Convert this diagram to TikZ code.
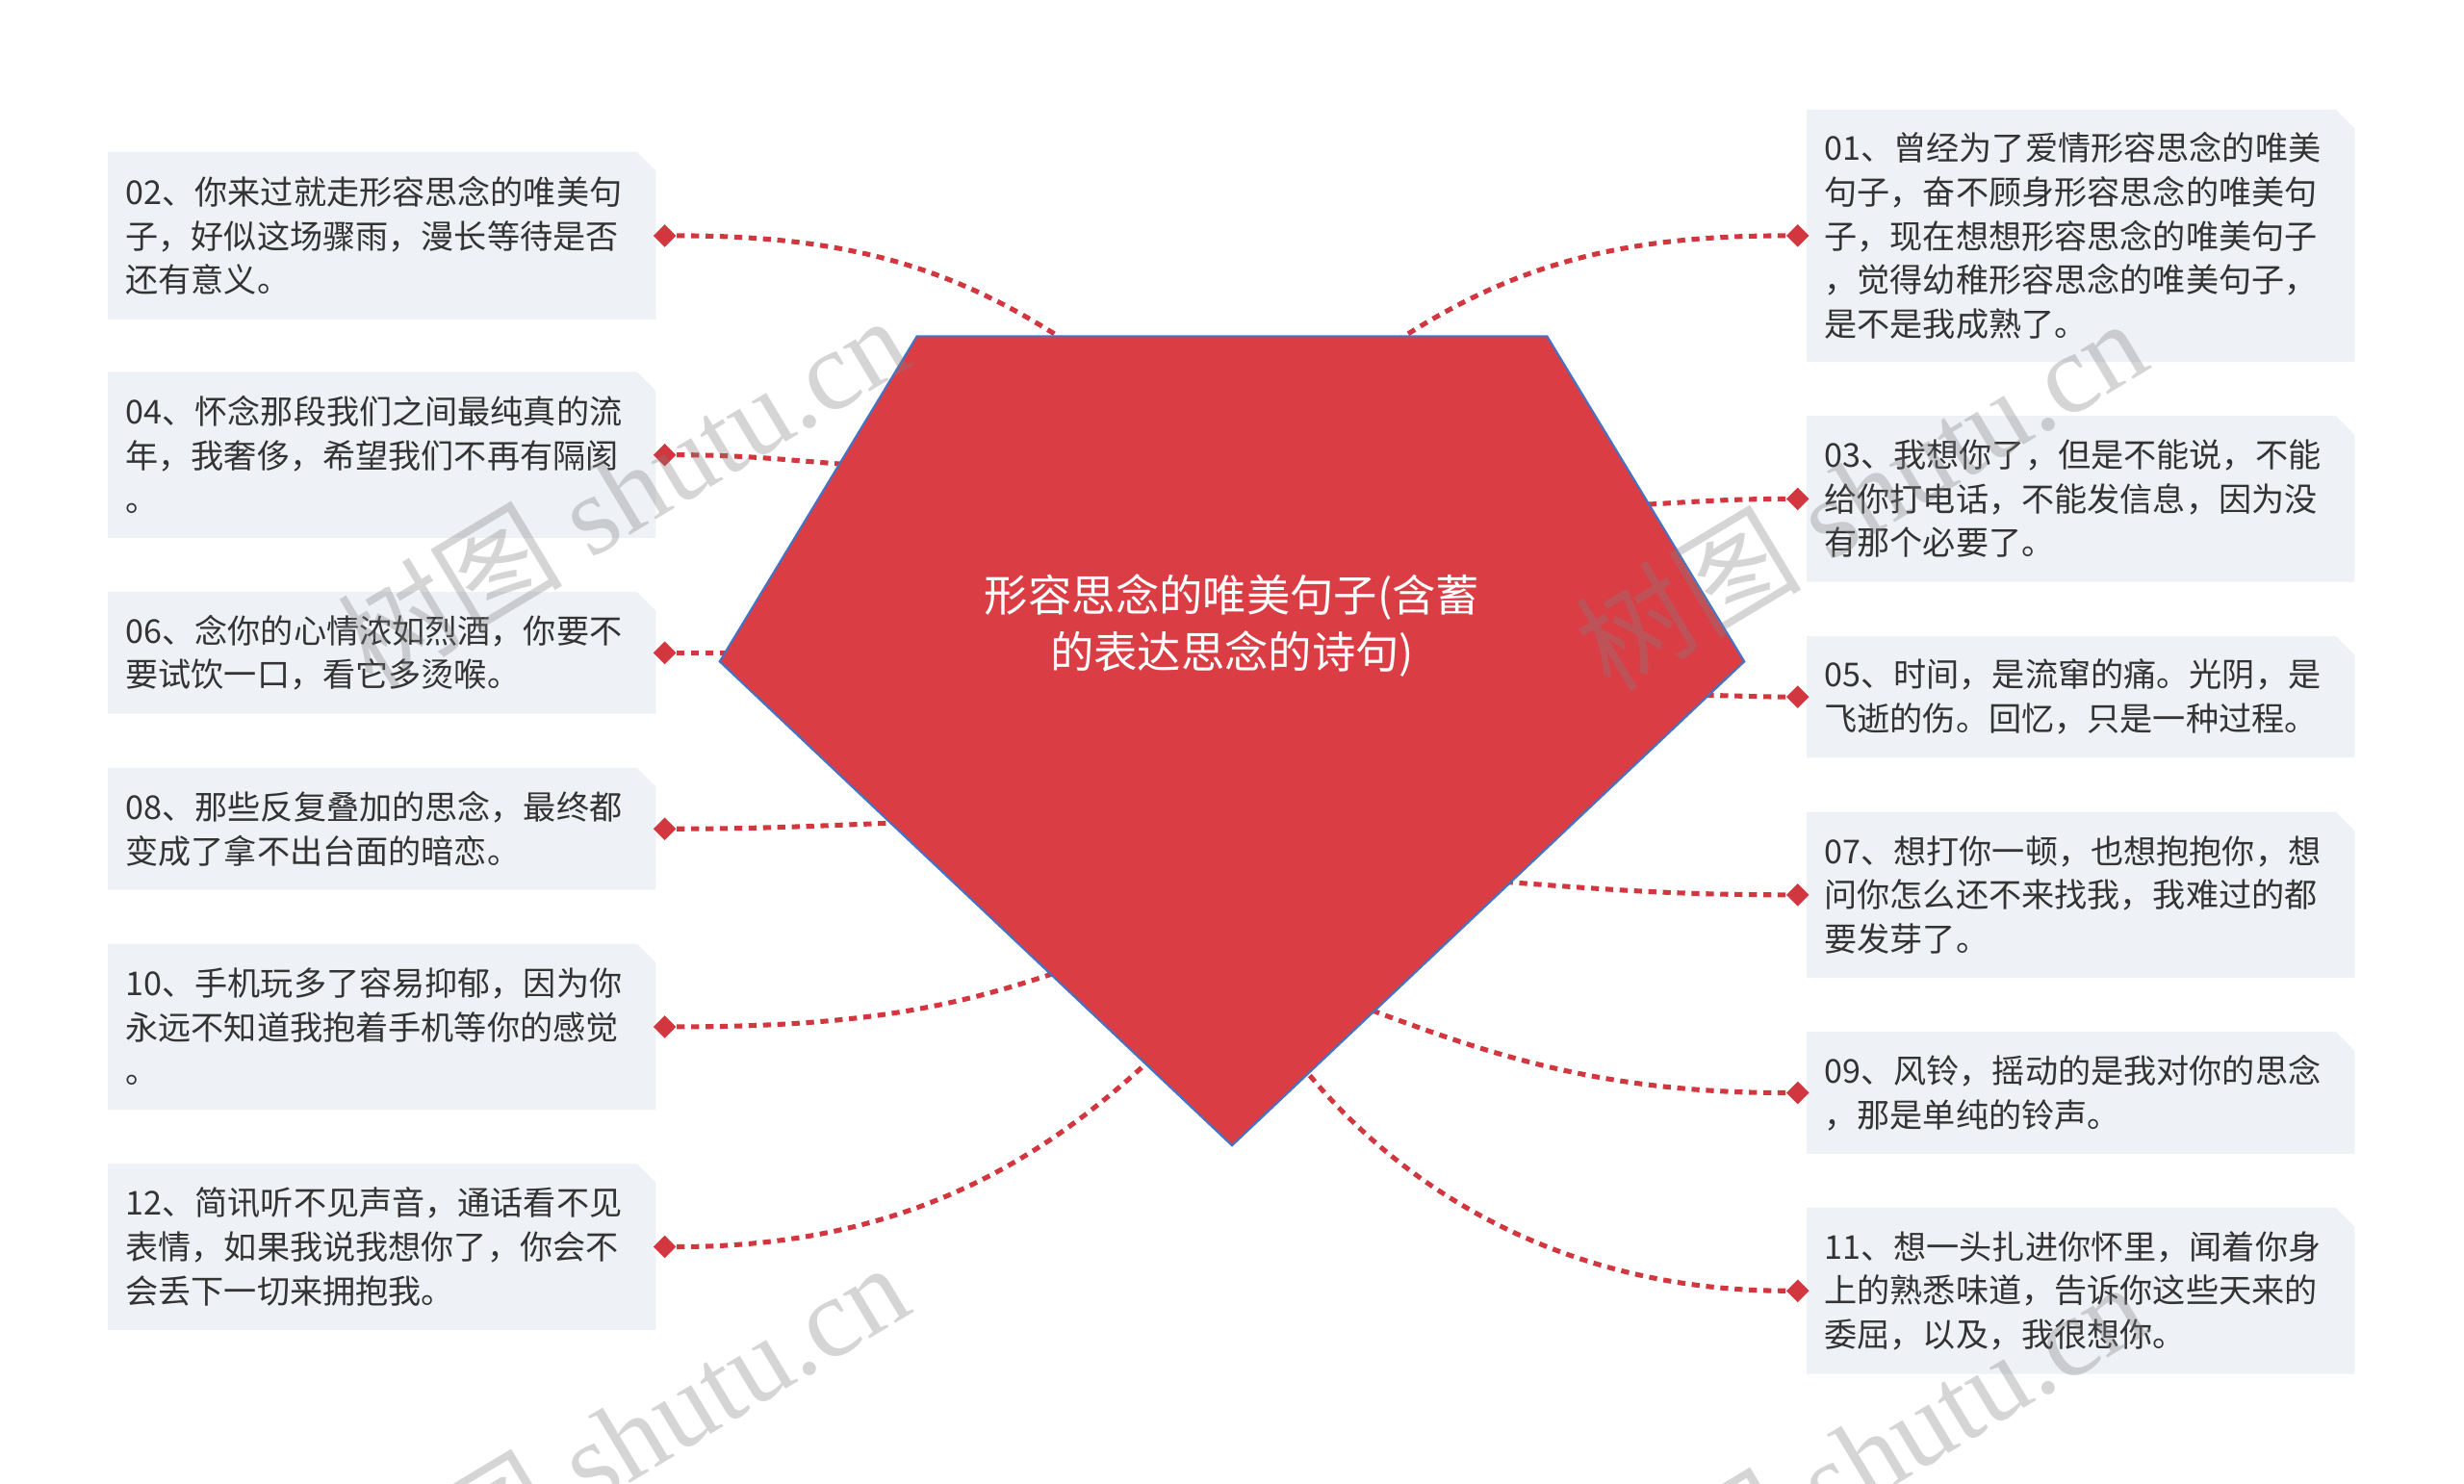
\documentclass[tikz,border=0pt]{standalone}
\usepackage{fontspec}
\setmainfont{Liberation Serif}
\newfontfamily\cjk{Noto Sans CJK SC}
\usetikzlibrary{shapes.geometric}
\pgfdeclarelayer{background}
\pgfdeclarelayer{front}
\pgfsetlayers{background,main,front}
\definecolor{boxfill}{HTML}{EEF1F5}
\definecolor{txtc}{HTML}{333333}
\definecolor{rootred}{HTML}{DB3D45}
\definecolor{rootline}{HTML}{4472C4}
\definecolor{linkred}{HTML}{D2363F}
\tikzset{
  leaf/.style={rectangle, inner xsep=6.73pt, inner ysep=0pt, text width=199.6pt,
    align=left, minimum width=213.05pt, text=txtc,
    font=\cjk\fontsize{12.8pt}{17.1pt}\selectfont},
  dia/.style={diamond, fill=linkred, inner sep=0pt, minimum size=9pt},
  link/.style={draw=linkred, line width=1.9pt, dash pattern=on 3.1pt off 2.5pt},
  roottext/.style={align=center, text=white, inner sep=0pt,
    font=\cjk\fontsize{17pt}{22.3pt}\selectfont},
  wm/.style={text=gray, opacity=0.33, inner sep=0pt, rotate=31,
    font=\fontsize{44pt}{44pt}\selectfont}
}
\begin{document}
\begin{tikzpicture}[x=0.6122pt, y=-0.6122pt]
\useasboundingbox (0,0) rectangle (1568,944);
\begin{pgfonlayer}{background}
\fill[white] (0,0) rectangle (1568,944);
\end{pgfonlayer}

% left leaves
\node[leaf, minimum height=64.9pt] (b02) at (243,150) {02、你来过就走形容思念的唯美句\\子，好似这场骤雨，漫长等待是否\\还有意义。};
\node[leaf, minimum height=64.3pt] (b04) at (243,289.5) {04、怀念那段我们之间最纯真的流\\年，我奢侈，希望我们不再有隔阂\\。};
\node[leaf, minimum height=47.1pt] (b06) at (243,415.5) {06、念你的心情浓如烈酒，你要不\\要试饮一口，看它多烫喉。};
\node[leaf, minimum height=47.1pt] (b08) at (243,527.5) {08、那些反复叠加的思念，最终都\\变成了拿不出台面的暗恋。};
\node[leaf, minimum height=64.3pt] (b10) at (243,653.5) {10、手机玩多了容易抑郁，因为你\\永远不知道我抱着手机等你的感觉\\。};
\node[leaf, minimum height=64.3pt] (b12) at (243,793.5) {12、简讯听不见声音，通话看不见\\表情，如果我说我想你了，你会不\\会丢下一切来拥抱我。};
% right leaves
\node[leaf, minimum height=97.95pt] (b01) at (1324,150) {01、曾经为了爱情形容思念的唯美\\句子，奋不顾身形容思念的唯美句\\子，现在想想形容思念的唯美句子\\，觉得幼稚形容思念的唯美句子，\\是不是我成熟了。};
\node[leaf, minimum height=64.3pt] (b03) at (1324,317.5) {03、我想你了，但是不能说，不能\\给你打电话，不能发信息，因为没\\有那个必要了。};
\node[leaf, minimum height=47.1pt] (b05) at (1324,443.5) {05、时间，是流窜的痛。光阴，是\\飞逝的伤。回忆，只是一种过程。};
\node[leaf, minimum height=64.3pt] (b07) at (1324,569.5) {07、想打你一顿，也想抱抱你，想\\问你怎么还不来找我，我难过的都\\要发芽了。};
\node[leaf, minimum height=47.1pt] (b09) at (1324,695.5) {09、风铃，摇动的是我对你的思念\\，那是单纯的铃声。};
\node[leaf, minimum height=64.3pt] (b11) at (1324,821.5) {11、想一头扎进你怀里，闻着你身\\上的熟悉味道，告诉你这些天来的\\委屈，以及，我很想你。};

\begin{pgfonlayer}{background}
\foreach \n in {b01,b02,b03,b04,b05,b06,b07,b08,b09,b10,b11,b12}{
  \fill[boxfill] (\n.south west) -- (\n.north west) -- ([xshift=-7.35pt]\n.north east)
    -- ([yshift=-7.35pt]\n.north east) -- (\n.south east) -- cycle;
}
\end{pgfonlayer}

% diamonds
\node[dia] (d02) at (423,150) {};
\node[dia] (d04) at (423,289.5) {};
\node[dia] (d06) at (423,415.5) {};
\node[dia] (d08) at (423,527.5) {};
\node[dia] (d10) at (423,653.5) {};
\node[dia] (d12) at (423,793.5) {};
\node[dia] (d01) at (1144,150) {};
\node[dia] (d03) at (1144,317.5) {};
\node[dia] (d05) at (1144,443.5) {};
\node[dia] (d07) at (1144,569.5) {};
\node[dia] (d09) at (1144,695.5) {};
\node[dia] (d11) at (1144,821.5) {};

% hidden ends of connectors (inside the root shape)
\coordinate (e02) at (690,225);
\coordinate (e04) at (560,297);
\coordinate (e06) at (490,415.5);
\coordinate (e08) at (590,523);
\coordinate (e10) at (675,618);
\coordinate (e12) at (745,662);
\coordinate (e01) at (877,225);
\coordinate (e03) at (1030,322);
\coordinate (e05) at (1080,442.5);
\coordinate (e07) at (940,560);
\coordinate (e09) at (865,640);
\coordinate (e11) at (822,670);

\draw[link] (d02.east) .. controls +(110,0) and +(-80,-55) .. (e02);
\draw[link] (d04.east) .. controls +(50,0) and +(-50,-3) .. (e04);
\draw[link] (d06.east) .. controls +(20,0) and +(-20,0) .. (e06);
\draw[link] (d08.east) .. controls +(60,0) and +(-60,2) .. (e08);
\draw[link] (d10.east) .. controls +(120,0) and +(-65,22) .. (e10);
\draw[link] (d12.east) .. controls +(150,0) and +(-75,73) .. (e12);
\draw[link] (d01.west) .. controls +(-110,0) and +(80,-55) .. (e01);
\draw[link] (d03.west) .. controls +(-40,0) and +(40,-2) .. (e03);
\draw[link] (d05.west) .. controls +(-20,0) and +(20,0) .. (e05);
\draw[link] (d07.west) .. controls +(-80,0) and +(70,5) .. (e07);
\draw[link] (d09.west) .. controls +(-120,0) and +(80,30) .. (e09);
\draw[link] (d11.west) .. controls +(-137,0) and +(68,90) .. (e11);

% root shape
\coordinate (pTL) at (583.5,214);
\coordinate (pTR) at (984.5,214);
\coordinate (pR) at (1110,421);
\coordinate (pB) at (784,729);
\coordinate (pL) at (458,421);
\filldraw[fill=rootred, draw=rootline, line width=0.8pt, line join=miter]
  (pTL) -- (pTR) -- (pR) -- (pB) -- (pL) -- cycle;
\node[roottext] (root) at (784,398) {形容思念的唯美句子(含蓄\\的表达思念的诗句)};

% watermarks
\begin{pgfonlayer}{front}
\begin{scope}
\clip (0,0) rectangle (1568,944);
\node[wm] (wm1) at (396,312) {{\cjk 树图}\hspace{0.25em}shutu.cn};
\node[wm] (wm2) at (1184,314) {{\cjk 树图}\hspace{0.25em}shutu.cn};
\node[wm] (wm3) at (396,915) {{\cjk 树图}\hspace{0.25em}shutu.cn};
\node[wm] (wm4) at (1184,927) {{\cjk 树图}\hspace{0.25em}shutu.cn};
\end{scope}
\end{pgfonlayer}
\end{tikzpicture}
\end{document}
